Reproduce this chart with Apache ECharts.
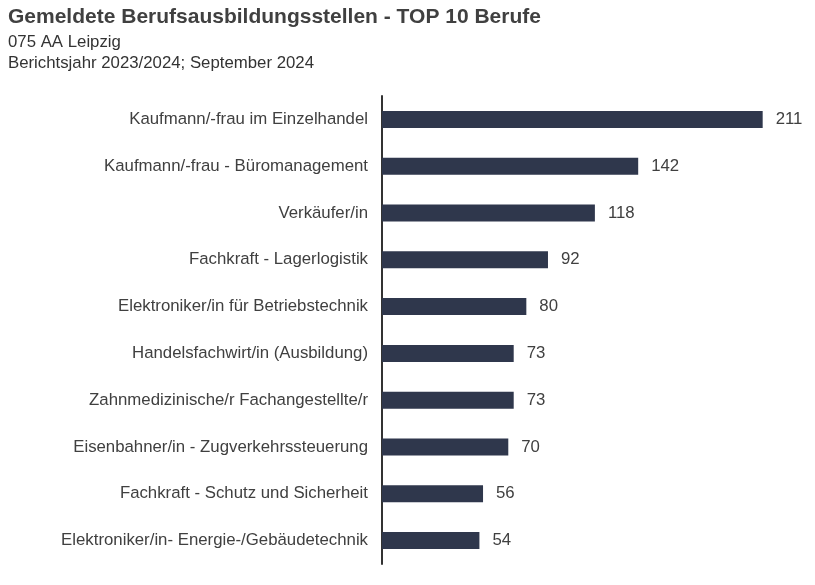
<!DOCTYPE html>
<html>
<head>
<meta charset="utf-8">
<script src="https://cdn.jsdelivr.net/npm/echarts@6/dist/echarts.min.js"></script>
<style>
  html, body { margin: 0; padding: 0; background: #fff; }
  #mychart { width: 815px; height: 585px; }
</style>
</head>
<body>
<div id="mychart"></div>
<script>
// Berufe (von oben nach unten)
var berufe = [
  "Kaufmann/-frau im Einzelhandel",
  "Kaufmann/-frau - Büromanagement",
  "Verkäufer/in",
  "Fachkraft - Lagerlogistik",
  "Elektroniker/in für Betriebstechnik",
  "Handelsfachwirt/in (Ausbildung)",
  "Zahnmedizinische/r Fachangestellte/r",
  "Eisenbahner/in - Zugverkehrssteuerung",
  "Fachkraft - Schutz und Sicherheit",
  "Elektroniker/in- Energie-/Gebäudetechnik"
];
// gemeldete Stellen
var stellen = [211, 142, 118, 92, 80, 73, 73, 70, 56, 54];

var mychart = echarts.init(document.getElementById("mychart"));
var options = {
  animation: false,
  textStyle: { fontFamily: "Liberation Sans, Arial, sans-serif" },
  title: {
    text: "Gemeldete Berufsausbildungsstellen - TOP 10 Berufe",
    subtext: "075 AA Leipzig\nBerichtsjahr 2023/2024; September 2024",
    left: 8,
    top: 4,
    padding: 0,
    itemGap: 2,
    textStyle: { fontSize: 21, fontWeight: "bold", color: "#404040", lineHeight: 26 },
    subtextStyle: { fontSize: 16.8, color: "#333333", lineHeight: 21 }
  },
  grid: { left: 382, right: 0, top: 96, bottom: 21 },
  xAxis: {
    type: "value",
    min: 0,
    max: 240,
    show: false
  },
  yAxis: {
    type: "category",
    inverse: true,
    data: berufe,
    axisLine: { show: true, lineStyle: { color: "#333333", width: 2 } },
    axisTick: { show: false },
    axisLabel: { margin: 14, fontSize: 16.8, color: "#404040" }
  },
  series: [
    {
      type: "bar",
      data: stellen,
      barWidth: 17,
      itemStyle: { color: "#2f374c" },
      label: {
        show: true,
        position: "right",
        distance: 13,
        fontSize: 16.8,
        color: "#404040"
      }
    }
  ]
};
mychart.setOption(options);
</script>
</body>
</html>
